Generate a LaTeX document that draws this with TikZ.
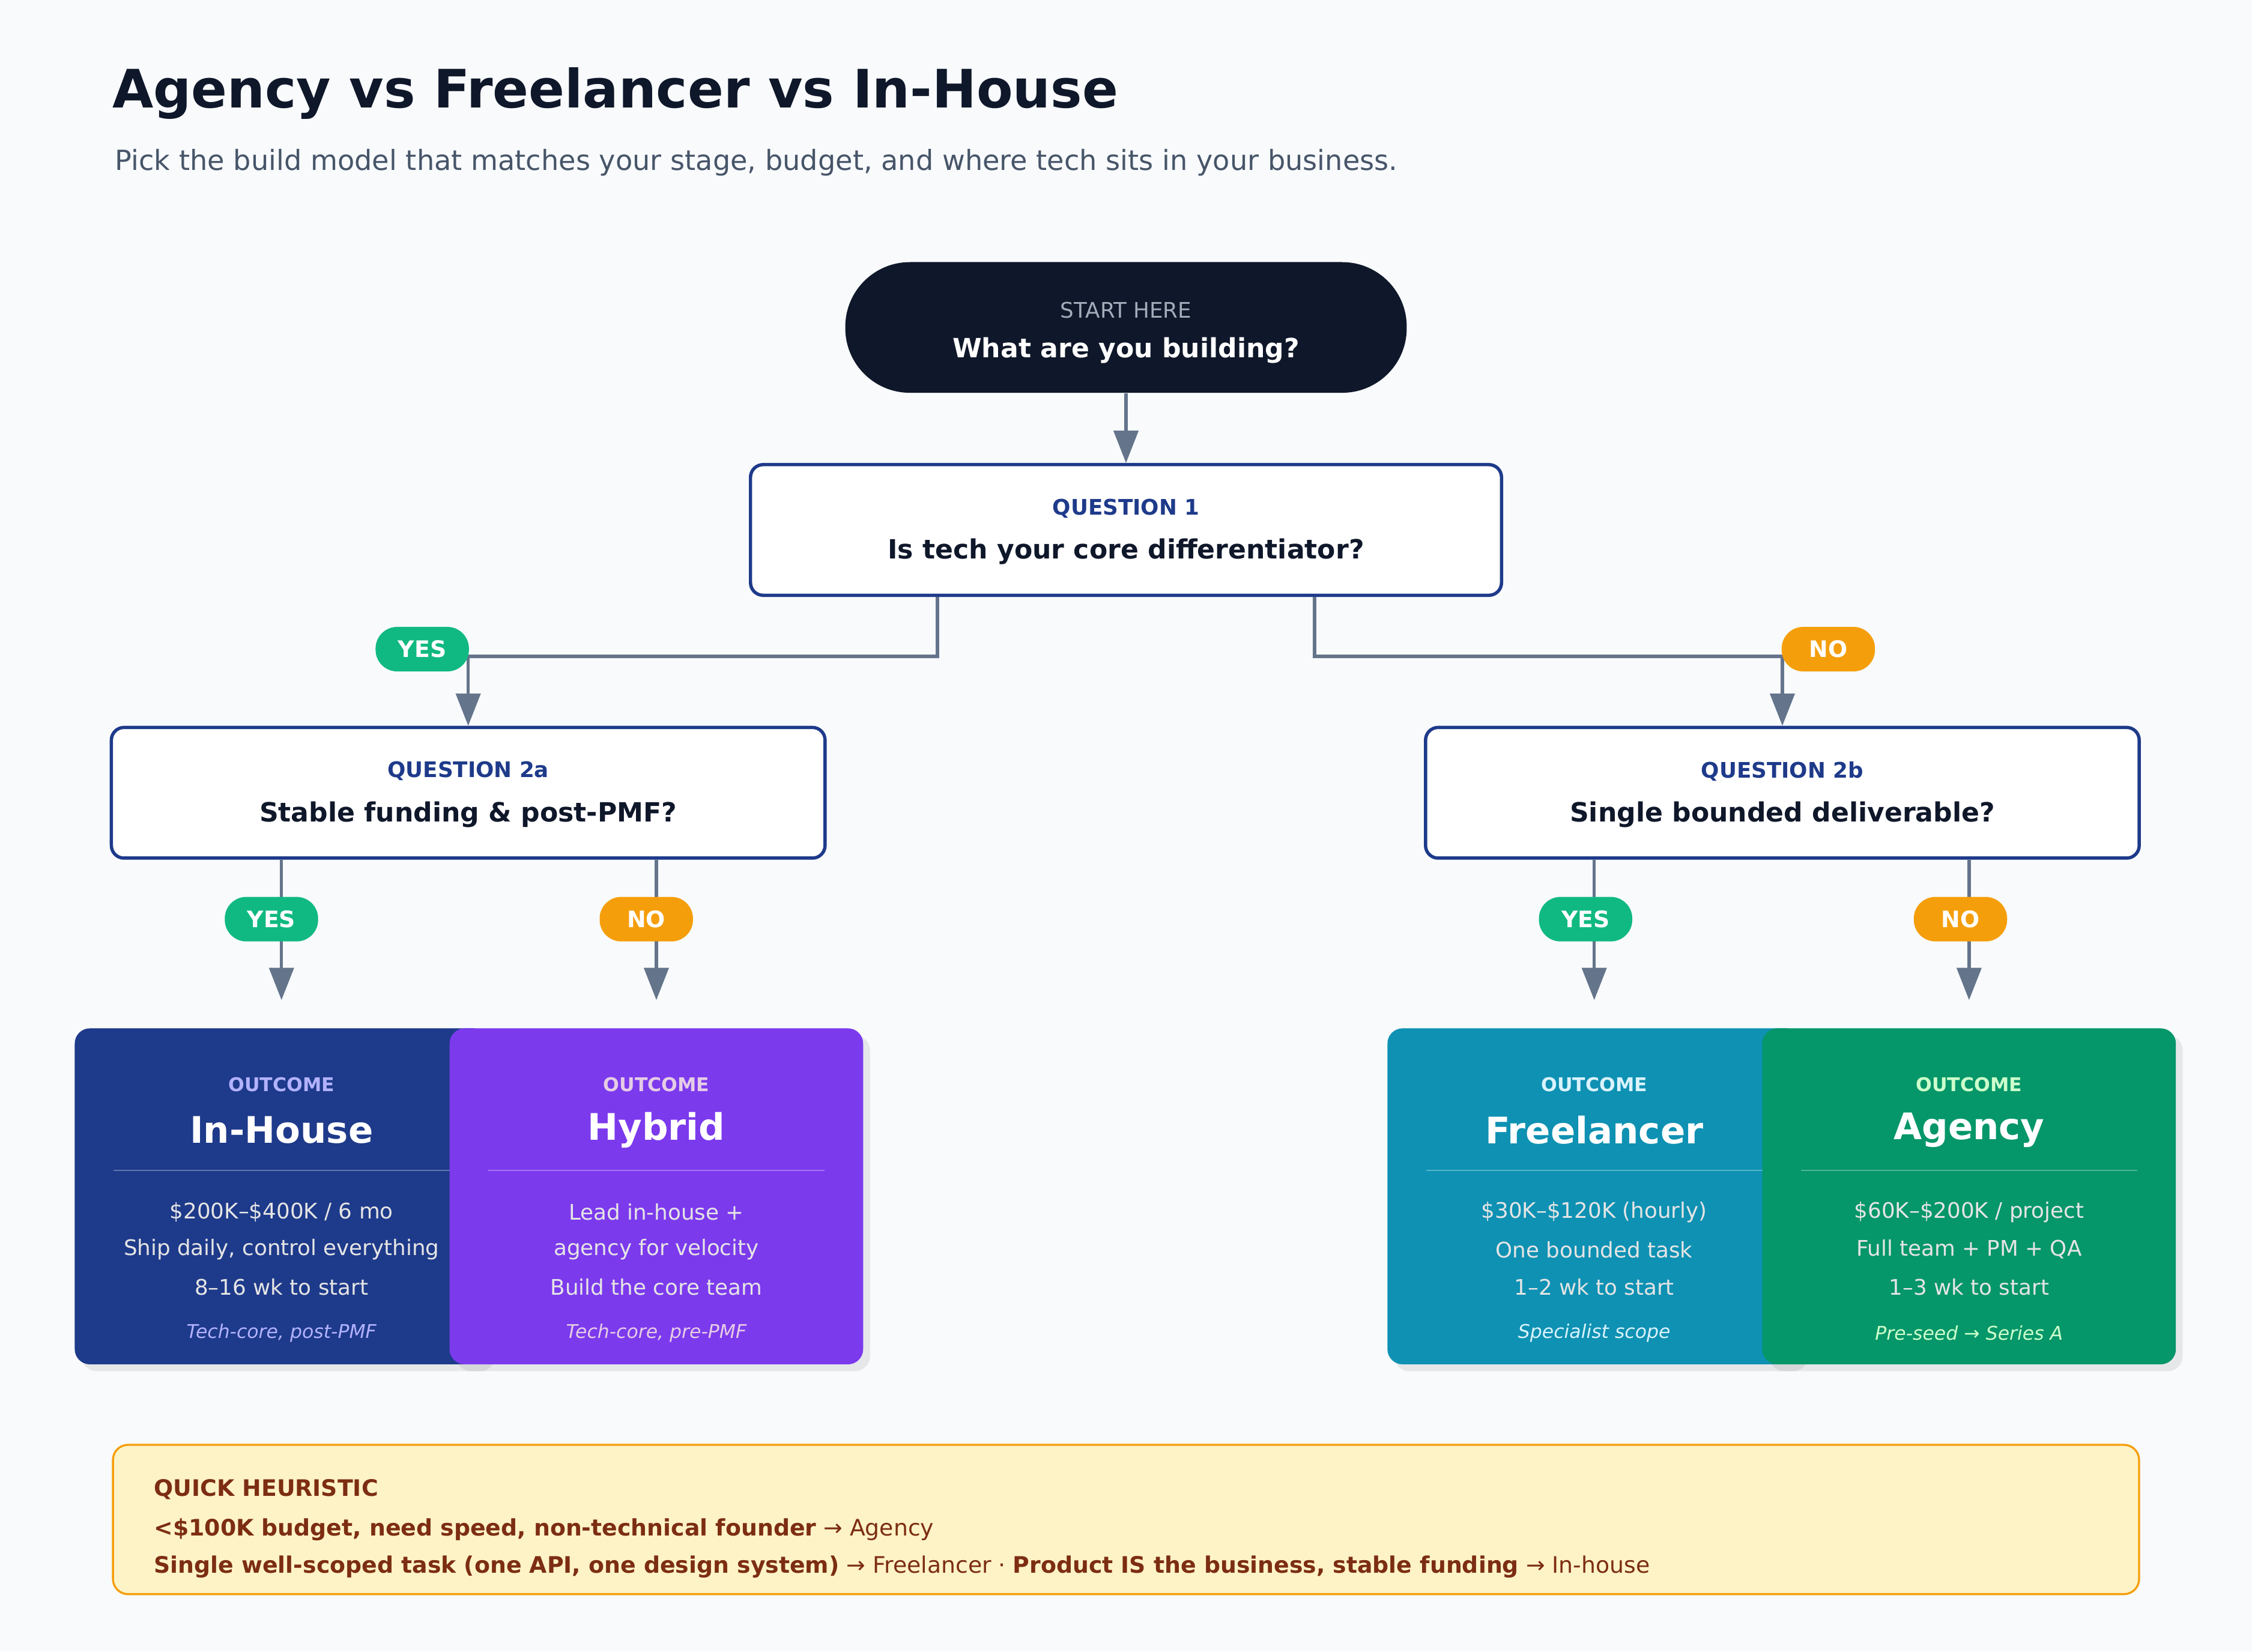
\documentclass[tikz,border=0pt]{standalone}
\usepackage{fontspec}
\setmainfont{DejaVu Sans}
\usetikzlibrary{positioning,arrows.meta,calc}
\definecolor{bg}{HTML}{F8FAFC}
\definecolor{ink}{HTML}{0F172A}
\definecolor{navy}{HTML}{1E3A8A}
\definecolor{slate}{HTML}{64748B}
\definecolor{sub}{HTML}{475569}
\definecolor{yesg}{HTML}{10B981}
\definecolor{noo}{HTML}{F59E0B}
\definecolor{cin}{HTML}{1E3A8A}
\definecolor{chy}{HTML}{7C3AED}
\definecolor{cfr}{HTML}{0E91B3}
\definecolor{cag}{HTML}{059669}
\definecolor{heur}{HTML}{FEF3C7}
\definecolor{brown}{HTML}{7C2D12}

\newcommand{\outcome}[9]{%
  \node[card, fill=#2] (#1) at (#3, 833) {};
  \node[font=\fontsize{7.5}{9}\bfseries\selectfont, text=#4] at (#3, 755) {OUTCOME};
  \node[font=\fontsize{14.5}{17}\bfseries\selectfont, text=white] at (#3, 787) {#5};
  \draw[white, opacity=.3, line width=.5pt] (#3-117, 815) -- (#3+117, 815);
  \node[body] at (#3, 844) {#6};
  \node[body] at (#3, 870) {#7};
  \node[body] at (#3, 896) {#8};
  \node[font=\fontsize{7.5}{9}\itshape\selectfont, text=#4] at (#3, 928) {#9};
}

\begin{document}
\begin{tikzpicture}[x=0.02cm, y=-0.02cm,
  pill/.style={rounded corners=0.9cm, fill=ink, minimum width=7.82cm, minimum height=1.82cm},
  qbox/.style={draw=navy, line width=1.3pt, fill=white, rounded corners=5pt},
  tag/.style={rounded corners=0.3cm, minimum width=1.3cm, minimum height=0.62cm, inner sep=0pt,
    text=white, font=\fontsize{9}{11}\bfseries\selectfont},
  yes/.style={tag, fill=yesg},
  no/.style={tag, fill=noo},
  card/.style={rounded corners=6pt, minimum width=5.76cm, minimum height=4.68cm, inner sep=0pt,
    drop shadow={opacity=.15}},
  body/.style={font=\fontsize{8.5}{10}\selectfont, text=white!90!black},
  link/.style={slate, line width=1.3pt},
  arr/.style={link, -{Triangle[length=0.45cm, width=0.34cm]}},
  qlabel/.style={font=\fontsize{8.5}{10}\bfseries\selectfont, text=navy},
  qtext/.style={font=\fontsize{10.5}{12}\bfseries\selectfont, text=ink}]
\usetikzlibrary{shadows}
  \fill[bg] (0,0) rectangle (1568,1150);

  % heading
  \node[anchor=west, font=\fontsize{21}{25}\bfseries\selectfont, text=ink] (title) at (72, 65) {Agency vs Freelancer vs In-House};
  \node[anchor=west, font=\fontsize{11}{13}\selectfont, text=sub] (subtitle) at (74, 113)
    {Pick the build model that matches your stage, budget, and where tech sits in your business.};

  % start
  \node[pill] (start) at (784, 228) {};
  \node[font=\fontsize{8.5}{10}\selectfont, text=slate!60] at (784, 216) {START HERE};
  \node[font=\fontsize{10.5}{12}\bfseries\selectfont, text=white] at (784, 244) {What are you building?};

  % questions
  \node[qbox, minimum width=10.46cm, minimum height=1.82cm] (q1) at (784, 369) {};
  \node[qlabel] at (784, 354) {QUESTION 1};
  \node[qtext] at (784, 384) {Is tech your core differentiator?};

  \node[qbox, minimum width=9.94cm, minimum height=1.82cm] (q2a) at (326, 552) {};
  \node[qlabel] at (326, 537) {QUESTION 2a};
  \node[qtext] at (326, 567) {Stable funding \& post-PMF?};

  \node[qbox, minimum width=9.94cm, minimum height=1.82cm] (q2b) at (1241, 552) {};
  \node[qlabel] at (1241, 537) {QUESTION 2b};
  \node[qtext] at (1241, 567) {Single bounded deliverable?};

  % outcomes
  \outcome{inhouse}{cin}{196}{blue!30!white}{In-House}{\$200K–\$400K / 6 mo}{Ship daily, control everything}{8–16 wk to start}{Tech-core, post-PMF}
  \outcome{hybrid}{chy}{457}{violet!20!white}{Hybrid}{Lead in-house +}{agency for velocity}{Build the core team}{Tech-core, pre-PMF}
  \outcome{freelancer}{cfr}{1110}{cyan!15!white}{Freelancer}{\$30K–\$120K (hourly)}{One bounded task}{1–2 wk to start}{Specialist scope}
  \outcome{agency}{cag}{1371}{green!20!white}{Agency}{\$60K–\$200K / project}{Full team + PM + QA}{1–3 wk to start}{Pre-seed → Series A}

  % connectors
  \draw[arr] (start) -- (q1);
  \draw[arr] ($(q1.south west)!.25!(q1.south east)$) |- (326, 457) -- (q2a);
  \draw[arr] ($(q1.south west)!.75!(q1.south east)$) |- (1241, 457) -- (q2b);
  \draw[arr, shorten >=11] (q2a.south -| inhouse) -- (inhouse);
  \draw[arr, shorten >=11] (q2a.south -| hybrid) -- (hybrid);
  \draw[arr, shorten >=11] (q2b.south -| freelancer) -- (freelancer);
  \draw[arr, shorten >=11] (q2b.south -| agency) -- (agency);

  \node[yes] (y1) at (294, 452) {YES};
  \node[no] (n1) at (1273, 452) {NO};
  \node[yes] (y2a) at (189, 640) {YES};
  \node[no] (n2a) at (450, 640) {NO};
  \node[yes] (y2b) at (1104, 640) {YES};
  \node[no] (n2b) at (1365, 640) {NO};

  % heuristic
  \node[draw=noo, fill=heur, line width=0.8pt, rounded corners=6pt, minimum width=28.22cm,
    minimum height=2.08cm] (heuristic) at (784, 1058) {};
  \begin{scope}[every node/.style={anchor=west, text=brown, font=\fontsize{9}{11}\selectfont}]
    \node at (101, 1037) {\bfseries QUICK HEURISTIC};
    \node at (101, 1065) {\textbf{<\$100K budget, need speed, non-technical founder} → Agency};
    \node at (101, 1091) {\textbf{Single well-scoped task (one API, one design system)} → Freelancer · \textbf{Product IS the business, stable funding} → In-house};
  \end{scope}
\end{tikzpicture}
\end{document}
